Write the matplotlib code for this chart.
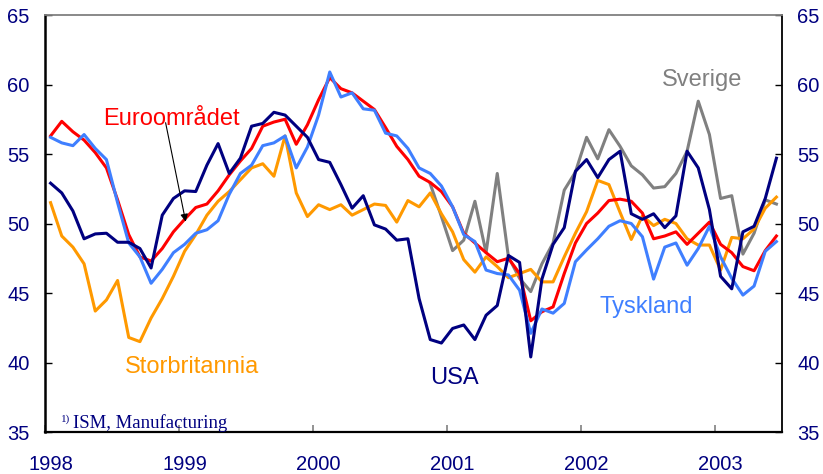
import numpy as np
import matplotlib
matplotlib.use('Agg')
import matplotlib.pyplot as plt
from matplotlib.transforms import ScaledTranslation

# Monthly data, Jan 1998 - Jun 2003
START_YEAR = 1998
N_MONTHS = 66

EURO = [56.3, 57.35, 56.6, 56.0, 55.1, 54.0, 51.7, 49.2, 47.6, 47.3, 48.2,
        49.4, 50.3, 51.15, 51.4, 52.35, 53.5, 54.5, 55.4, 57.0, 57.3, 57.5,
        55.7, 57.1, 58.9, 60.5, 59.7, 59.4, 58.8, 58.2, 56.9, 55.55, 54.6,
        53.4, 52.95, 52.3, 51.2, 49.3, 48.6, 47.9, 47.25, 47.5, 46.4, 43.0,
        43.65, 44.0, 46.4, 48.6, 50.0, 50.75, 51.65, 51.75, 51.6, 50.75, 48.9,
        49.1, 49.4, 48.5, 49.3, 50.1, 48.5, 47.9, 46.9, 46.6, 48.05, 49.1]

TYSKLAND = [56.2, 55.8, 55.6, 56.4, 55.4, 54.6, 51.5, 48.6, 47.6, 45.7, 46.7,
            47.9, 48.5, 49.3, 49.55, 50.2, 52.1, 53.6, 54.2, 55.6, 55.8, 56.3,
            54.0, 55.5, 57.8, 60.9, 59.1, 59.4, 58.25, 58.15, 56.5, 56.3, 55.4,
            54.0, 53.6, 52.7, 51.2, 49.2, 48.7, 46.65, 46.4, 46.3, 45.2, 42.1,
            43.85, 43.55, 44.25, 47.25, 48.1, 48.9, 49.8, 50.2, 50.0, 49.05, 46.0,
            48.3, 48.6, 47.0, 48.2, 49.8, 47.6, 46.05, 44.85, 45.5, 48.0, 48.7]

USA = [52.9, 52.2, 50.9, 48.9, 49.25, 49.3, 48.65, 48.65, 48.2, 46.8, 50.6,
       51.8, 52.35, 52.3, 54.2, 55.75, 53.6, 54.7, 57.0, 57.2, 58.0, 57.8,
       57.0, 56.2, 54.6, 54.4, 52.8, 51.1, 52.0, 49.9, 49.6, 48.8, 48.9,
       44.6, 41.65, 41.4, 42.45, 42.7, 41.65, 43.4, 44.1, 47.7, 47.2, 40.4,
       46.0, 48.5, 49.7, 53.75, 54.6, 53.3, 54.6, 55.2, 50.7, 50.3, 50.7,
       49.7, 50.55, 55.2, 54.0, 51.0, 46.2, 45.3, 49.4, 49.8, 51.8, 54.7]

STORBRITANNIA = [51.5, 49.1, 48.3, 47.1, 43.7, 44.5, 45.9, 41.8, 41.5, 43.2, 44.6,
                 46.2, 48.0, 49.2, 50.6, 51.6, 52.3, 53.15, 54.0, 54.3, 53.4, 56.3,
                 52.2, 50.5, 51.35, 51.0, 51.35, 50.6, 51.0, 51.4, 51.3, 50.1, 51.65,
                 51.2, 52.2, 50.7, 49.4, 47.4, 46.5, 47.6, 46.9, 46.1, 46.4, 46.7,
                 45.8, 45.8, 47.6, 49.3, 50.85, 53.1, 52.8, 50.8, 48.85, 50.55, 49.85,
                 50.3, 50.0, 48.9, 48.45, 48.45, 46.65, 49.0, 48.9, 49.6, 51.1, 51.9]

# Sverige starts Nov 2000
SVERIGE = [np.nan] * 34 + [
    52.85, 50.5, 48.05, 48.8, 51.6, 47.9, 53.6, 47.6, 46.05, 45.1,
    47.1, 48.6, 52.4, 53.7, 56.2, 54.65, 56.75, 55.55, 54.15, 53.5, 52.55,
    52.65, 53.6, 55.2, 58.8, 56.4, 51.8, 52.0, 47.8, 49.3, 51.7, 51.4]

YEARS = [1998, 1999, 2000, 2001, 2002, 2003]

C_RED = '#ff0000'
C_BLUE = '#3f7fff'
C_NAVY = '#000080'
C_ORANGE = '#ff9900'
C_GRAY = '#808080'
C_TEXT = '#000080'

plt.rcParams['font.family'] = ['Liberation Sans', 'DejaVu Sans']

x = START_YEAR + (np.arange(N_MONTHS) + 0.5) / 12

fig = plt.figure(figsize=(8.23, 4.74), dpi=100)
ax = fig.add_axes([45 / 823, 1 - 432 / 474, 737 / 823, 417 / 474])

lw = 2.2
ax.plot(x, SVERIGE, color=C_GRAY, lw=lw)
ax.plot(x, STORBRITANNIA, color=C_ORANGE, lw=lw)
ax.plot(x, EURO, color=C_RED, lw=lw)
ax.plot(x, TYSKLAND, color=C_BLUE, lw=lw)
ax.plot(x, USA, color=C_NAVY, lw=lw)

ax.set_xlim(1998, 2003.5)
ax.set_ylim(35, 65)
ax.set_yticks(range(35, 66, 5))
ax.set_xticks(YEARS)
ax.set_xticklabels([str(y) for y in YEARS])

for side in ('left', 'bottom', 'right'):
    ax.spines[side].set_color('black')
ax.spines['left'].set_linewidth(1.8)
ax.spines['bottom'].set_linewidth(1.6)
ax.spines['right'].set_linewidth(1.3)
ax.spines['top'].set_color(C_GRAY)
ax.spines['top'].set_linewidth(1.3)

ax.tick_params(axis='y', direction='in', length=5, width=1, colors='black',
               labelcolor=C_TEXT, labelsize=14.5, pad=11,
               right=True, labelright=True)
ax.tick_params(axis='x', direction='in', length=5, width=1.2, color=C_GRAY,
               labelcolor=C_TEXT, labelsize=14.5, pad=16.5)
shift = ScaledTranslation(5.5 / 100, 0, fig.dpi_scale_trans)
for lab in ax.get_xticklabels():
    lab.set_transform(lab.get_transform() + shift)

# series labels
fs = 17
ax.text(1998.94, 57.09, 'Euroområdet', color=C_RED, fontsize=fs,
        ha='center', va='baseline')
ax.annotate('', xy=(1999.05, 50.13), xytext=(1998.90, 57.25),
            arrowprops=dict(arrowstyle='-|>', color='black', lw=0.8,
                            mutation_scale=11, shrinkA=0, shrinkB=0))
ax.text(2002.904, 59.89, 'Sverige', color=C_GRAY, fontsize=fs,
        ha='center', va='baseline')
ax.text(1999.10, 39.27, 'Storbritannia', color=C_ORANGE, fontsize=fs,
        ha='center', va='baseline')
ax.text(2001.057, 38.43, 'USA', color=C_NAVY, fontsize=fs,
        ha='center', va='baseline')
ax.text(2002.49, 43.54, 'Tyskland', color=C_BLUE, fontsize=fs,
        ha='center', va='baseline')

# footnote
ax.text(1998.12, 35.75, '1)', color=C_TEXT, fontsize=8,
        family=['Liberation Serif', 'DejaVu Serif'], va='baseline')
ax.text(1998.21, 35.31, 'ISM, Manufacturing', color=C_TEXT, fontsize=13.5,
        family=['Liberation Serif', 'DejaVu Serif'], va='baseline')

fig.savefig('out.png', dpi=100, facecolor='white')
